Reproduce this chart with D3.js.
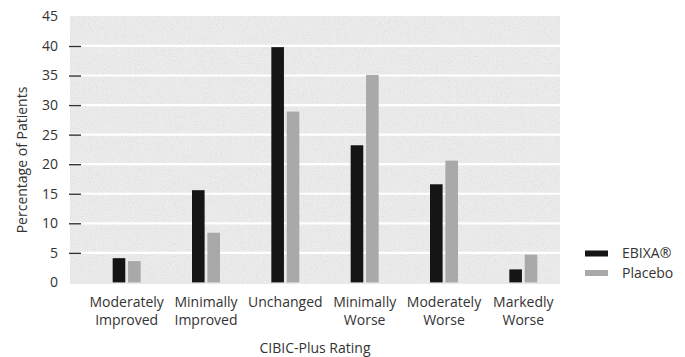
<!DOCTYPE html>
<html>
<head>
<meta charset="utf-8">
<script src="https://cdn.jsdelivr.net/npm/d3@7"></script>
<style>
  html, body { margin: 0; padding: 0; background: #fff; }
  svg { display: block; font-family: "Open Sans", "Noto Sans", sans-serif; }
</style>
</head>
<body>
<svg id="chart" width="685" height="357"></svg>
<script>
// CIBIC-Plus ratings, percentage of patients per group
const categories = [
  ["Moderately", "Improved"],
  ["Minimally", "Improved"],
  ["Unchanged"],
  ["Minimally", "Worse"],
  ["Moderately", "Worse"],
  ["Markedly", "Worse"]
];
const seriesNames = ["EBIXA®", "Placebo"];
const ebixaValues = [4.1, 15.6, 39.8, 23.2, 16.6, 2.2];
const placeboValues = [3.6, 8.4, 28.9, 35.1, 20.6, 4.7];
const yTicks = [0, 5, 10, 15, 20, 25, 30, 35, 40, 45];
const xTitle = "CIBIC-Plus Rating";
const yTitle = "Percentage of Patients";

const colors = { "EBIXA®": "#151515", "Placebo": "#a9a9a9" };
const values = { "EBIXA®": ebixaValues, "Placebo": placeboValues };

const svg = d3.select("#chart");
const panel = { left: 70, right: 560, top: 16, bottom: 284 };

const catKeys = categories.map(c => c.join(" "));
const x = d3.scaleBand().domain(catKeys).range([87, 563]).paddingInner(0).paddingOuter(0);
const xSub = d3.scaleBand().domain(seriesNames).range([-14, 14]).paddingInner(0.18);
const y = d3.scaleLinear().domain([0, 45]).range([282.4, 16.4]);

// grainy panel texture
const defs = svg.append("defs");
const grain = defs.append("filter").attr("id", "grain")
  .attr("x", 0).attr("y", 0).attr("width", 1).attr("height", 1);
grain.append("feTurbulence").attr("type", "fractalNoise")
  .attr("baseFrequency", 0.85).attr("numOctaves", 2).attr("seed", 7).attr("result", "noise");
grain.append("feColorMatrix").attr("in", "noise").attr("type", "matrix")
  .attr("values", "0 0 0 0 0.55  0 0 0 0 0.55  0 0 0 0 0.55  0 0 0 -2.2 1.25")
  .attr("result", "speck");
grain.append("feComposite").attr("in", "speck").attr("in2", "SourceGraphic").attr("operator", "in");

svg.append("rect")
  .attr("x", panel.left).attr("y", panel.top)
  .attr("width", panel.right - panel.left).attr("height", panel.bottom - panel.top)
  .attr("fill", "#ececec");
svg.append("rect")
  .attr("x", panel.left).attr("y", panel.top)
  .attr("width", panel.right - panel.left).attr("height", panel.bottom - panel.top)
  .attr("fill", "#ececec")
  .attr("filter", "url(#grain)")
  .attr("opacity", 0.35);

// white gridlines inside the panel
svg.append("g").selectAll("line")
  .data(yTicks.filter(t => t > 0 && t < 45))
  .join("line")
  .attr("x1", panel.left).attr("x2", panel.right)
  .attr("y1", d => y(d)).attr("y2", d => y(d))
  .attr("stroke", "#fff").attr("stroke-width", 2.2);

// y axis: labels for every tick, dashes only for the inner ones
const yAxis = svg.append("g")
  .attr("transform", "translate(81,0)")
  .call(d3.axisLeft(y).tickValues(yTicks).tickSize(12).tickPadding(11).tickFormat(d3.format("d")));
yAxis.select(".domain").remove();
yAxis.selectAll(".tick line")
  .attr("stroke", "#333").attr("stroke-width", 1.4)
  .attr("display", d => (d === 0 || d === 45) ? "none" : null);
yAxis.selectAll(".tick text")
  .attr("fill", "#333").style("font-size", "14px")
  .style("font-family", "'Open Sans', sans-serif");

// bars
const groups = svg.append("g").selectAll("g")
  .data(catKeys)
  .join("g")
  .attr("transform", d => `translate(${x(d) + x.bandwidth() / 2},0)`);

groups.selectAll("rect")
  .data((d, i) => seriesNames.map(s => ({ s, v: values[s][i] })))
  .join("rect")
  .attr("x", d => xSub(d.s))
  .attr("width", xSub.bandwidth())
  .attr("y", d => y(d.v))
  .attr("height", d => y(0) - y(d.v))
  .attr("fill", d => colors[d.s]);

// category labels
const catLabels = svg.append("g").selectAll("text")
  .data(categories)
  .join("text")
  .attr("x", (d, i) => x(catKeys[i]) + x.bandwidth() / 2)
  .attr("y", 307)
  .attr("text-anchor", "middle")
  .attr("fill", "#333")
  .style("font-size", "14px");
catLabels.selectAll("tspan")
  .data(d => d)
  .join("tspan")
  .attr("x", function () { return d3.select(this.parentNode).attr("x"); })
  .attr("dy", (d, i) => i === 0 ? 0 : 17.5)
  .text(d => d);

// axis titles
svg.append("text")
  .attr("x", (panel.left + panel.right) / 2)
  .attr("y", 352.5)
  .attr("text-anchor", "middle")
  .attr("fill", "#333")
  .style("font-size", "14px")
  .text(xTitle);

svg.append("text")
  .attr("transform", "translate(26.5,160) rotate(-90)")
  .attr("text-anchor", "middle")
  .attr("fill", "#333")
  .style("font-size", "14px")
  .text(yTitle);

// legend
const legend = svg.append("g").selectAll("g")
  .data(seriesNames)
  .join("g")
  .attr("transform", (d, i) => `translate(585,${253.5 + i * 19.5})`);
legend.append("rect")
  .attr("x", 0).attr("y", -3).attr("width", 23).attr("height", 6)
  .attr("fill", d => colors[d]);
legend.append("text")
  .attr("x", 37).attr("y", 0)
  .attr("dy", "0.35em")
  .attr("fill", "#333")
  .style("font-size", "14px")
  .text(d => d);
</script>
</body>
</html>
